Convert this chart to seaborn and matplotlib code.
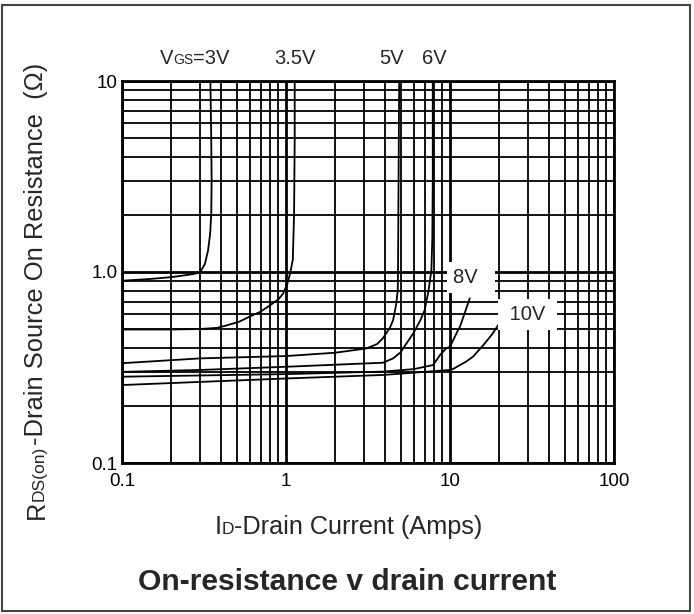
import matplotlib
matplotlib.use("Agg")
import matplotlib.pyplot as plt
import seaborn as sns
import numpy as np
import pandas as pd
from matplotlib.patches import Rectangle
from matplotlib.ticker import LogLocator, NullFormatter, FixedLocator, FixedFormatter

sns.set_style("white")
plt.rcParams["font.family"] = ["Liberation Sans", "DejaVu Sans"]

# drain current (A) and on-resistance (ohm)
vgs3_i = [0.10, 0.15, 0.20, 0.25, 0.28, 0.30, 0.32, 0.335, 0.345, 0.350, 0.352, 0.350, 0.346]
vgs3_r = [0.90, 0.92, 0.94, 0.965, 0.98, 1.00, 1.10, 1.30, 1.60, 2.00, 3.00, 5.00, 10.0]

vgs35_i = [0.10, 0.20, 0.30, 0.38, 0.43, 0.52, 0.60, 0.70, 0.80, 0.90, 0.96, 1.02, 1.06, 1.10, 1.12, 1.13, 1.13]
vgs35_r = [0.50, 0.50, 0.503, 0.51, 0.524, 0.55, 0.584, 0.62, 0.67, 0.72, 0.77, 0.87, 0.985, 1.16, 2.0, 5.0, 10.0]

vgs5_i = [0.10, 0.30, 1.0, 2.0, 3.1, 3.6, 3.9, 4.3, 4.5, 4.7, 4.8, 4.82, 4.85, 4.9]
vgs5_r = [0.333, 0.353, 0.363, 0.378, 0.398, 0.42, 0.45, 0.51, 0.56, 0.68, 0.80, 1.0, 2.5, 10.0]

vgs6_i = [0.10, 0.30, 1.0, 3.9, 4.5, 5.0, 5.4, 6.0, 6.6, 7.0, 7.4, 7.7, 7.8, 7.85, 7.85]
vgs6_r = [0.30, 0.307, 0.319, 0.335, 0.353, 0.38, 0.42, 0.48, 0.56, 0.63, 0.80, 1.02, 1.5, 3.0, 10.0]

vgs8_i = [0.10, 1.0, 3.9, 6.0, 7.9, 8.7, 9.5, 10.0, 11.2, 11.5, 13.2]
vgs8_r = [0.283, 0.292, 0.301, 0.31, 0.326, 0.368, 0.399, 0.406, 0.497, 0.517, 0.728]

vgs10_i = [0.10, 1.0, 3.9, 10.0, 10.4, 12.5, 13.8, 16.0, 18.0, 19.7]
vgs10_r = [0.256, 0.277, 0.289, 0.307, 0.31, 0.339, 0.36, 0.415, 0.47, 0.528]

x_ticks = [0.1, 1, 10, 100]
x_tick_labels = ["0.1", "1", "10", "100"]
y_ticks = [0.1, 1, 10]
y_tick_labels = ["0.1", "1.0", "10"]

curves = {
    "3V": (vgs3_i, vgs3_r),
    "3.5V": (vgs35_i, vgs35_r),
    "5V": (vgs5_i, vgs5_r),
    "6V": (vgs6_i, vgs6_r),
    "8V": (vgs8_i, vgs8_r),
    "10V": (vgs10_i, vgs10_r),
}
df = pd.concat(
    [pd.DataFrame({"current": i, "rds": r, "vgs": k}) for k, (i, r) in curves.items()],
    ignore_index=True,
)

fig = plt.figure(figsize=(6.94, 6.14), dpi=100)
ax = fig.add_axes([122 / 694, 1 - 463 / 614, 492 / 694, 382 / 614])

sns.lineplot(data=df, x="current", y="rds", units="vgs", estimator=None, sort=False,
             color="black", lw=1.3, ax=ax, legend=False)

ax.set_xscale("log")
ax.set_yscale("log")
ax.set_xlim(0.1, 100)
ax.set_ylim(0.1, 10)

ax.xaxis.set_major_locator(FixedLocator(x_ticks))
ax.xaxis.set_major_formatter(FixedFormatter(x_tick_labels))
ax.yaxis.set_major_locator(FixedLocator(y_ticks))
ax.yaxis.set_major_formatter(FixedFormatter(y_tick_labels))
for axis in (ax.xaxis, ax.yaxis):
    axis.set_minor_locator(LogLocator(base=10, subs=np.arange(2, 10)))
    axis.set_minor_formatter(NullFormatter())

ax.grid(which="major", color="black", lw=2.0)
ax.grid(which="minor", color="black", lw=1.3)
ax.tick_params(which="both", length=0)
ax.tick_params(axis="x", pad=7, labelsize=13.5, labelcolor="black")
ax.tick_params(axis="y", pad=3, labelsize=13.5, labelcolor="black")
for sp in ax.spines.values():
    sp.set_visible(True)
    sp.set_color("black")
    sp.set_linewidth(2.0)
ax.set_xlabel("")
ax.set_ylabel("")

# curve labels above the grid
lab_y = 1.033
tv = ax.text(0.17, lab_y, "V", fontsize=14.5, ha="left", va="bottom",
             transform=ax.get_xaxis_transform())
tg = ax.annotate("GS", xy=(1, 0), xycoords=tv, xytext=(0, 0.21 * 4.5),
                 textcoords="offset points", fontsize=10, ha="left", va="bottom")
ax.annotate("=3V", xy=(1, 0), xycoords=tg, xytext=(0, -0.21 * 4.5),
            textcoords="offset points", fontsize=14.5, ha="left", va="bottom")
for s, xi in [("3.5V", 1.13), ("5V", 4.37), ("6V", 8.0)]:
    ax.text(xi, lab_y, s, fontsize=14.5, ha="center", va="bottom",
            transform=ax.get_xaxis_transform())

# labels inside the grid, on white boxes
ax.text(10.4, 0.94, "8V  ", fontsize=14.5, ha="left", va="center", zorder=5,
        bbox=dict(boxstyle="square,pad=0.3", fc="white", ec="none"))
ax.text(29.5, 0.60, " 10V ", fontsize=14.5, ha="center", va="center", zorder=5,
        bbox=dict(boxstyle="square,pad=0.3", fc="white", ec="none"))

# axis titles with small-letter subscripts
tr = fig.text(48.4 / 694, 1 - 519 / 614, "R", fontsize=18.4, rotation=90,
              ha="right", va="bottom")
t2 = ax.annotate("DS(on)", xy=(1, 1), xycoords=tr, xytext=(-0.21 * 5.9, 0),
                 textcoords="offset points", fontsize=12.5, rotation=90,
                 ha="right", va="bottom", annotation_clip=False)
ax.annotate("-Drain Source On Resistance  (\u03a9)", xy=(1, 1), xycoords=t2,
            xytext=(0.21 * 5.9, 0), textcoords="offset points", fontsize=18.4,
            rotation=90, ha="right", va="bottom", annotation_clip=False)

ti = fig.text(215 / 694, 1 - 538.7 / 614, "I", fontsize=18.2, ha="left", va="bottom")
td = ax.annotate("D", xy=(1, 0), xycoords=ti, xytext=(0, 0.21 * 5.7),
                 textcoords="offset points", fontsize=12.5, ha="left", va="bottom",
                 annotation_clip=False)
ax.annotate("-Drain Current (Amps)", xy=(1, 0), xycoords=td, xytext=(0, -0.21 * 5.7),
            textcoords="offset points", fontsize=18.2, ha="left", va="bottom",
            annotation_clip=False)

fig.text(347.5 / 694, 1 - 590 / 614, "On-resistance v drain current", fontsize=21.6,
         fontweight="bold", ha="center", va="baseline")

fig.patches.append(Rectangle((2 / 694, 1 - 611 / 614), 688 / 694, 606 / 614,
                             transform=fig.transFigure, fill=False, ec="#444444", lw=1.5))

fig.savefig("out.png", dpi=100)
plt.close(fig)
